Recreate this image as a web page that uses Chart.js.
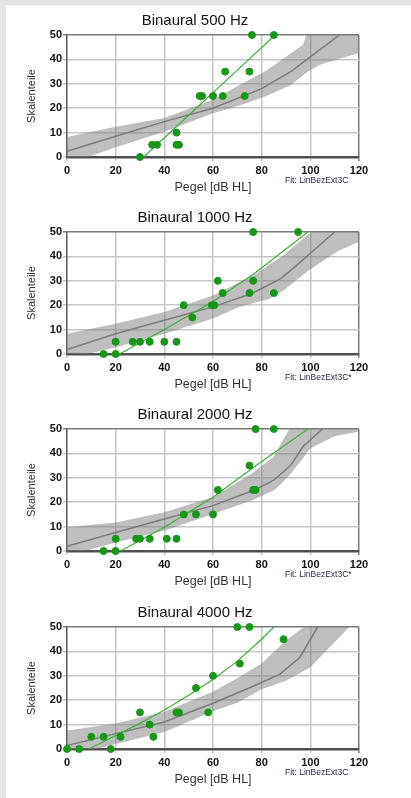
<!DOCTYPE html>
<html>
<head>
<meta charset="utf-8">
<script src="https://cdn.jsdelivr.net/npm/chart.js@4.4.0/dist/chart.umd.min.js"></script>
<style>
  html, body { margin: 0; padding: 0; background: #fff; }
  body { width: 411px; height: 798px; position: relative; overflow: hidden; }
  .edge { position: absolute; background: #e4e4e4; z-index: 2; }
  .panel { position: absolute; left: 0; width: 411px; height: 197px; }
  canvas { display: block; }
</style>
</head>
<body>
<div class="edge" style="left:0;top:0;width:411px;height:5px"></div>
<div class="edge" style="left:0;top:0;width:6px;height:798px"></div>
<div class="panel" style="top:0"><canvas id="c0" width="411" height="197"></canvas></div>
<div class="panel" style="top:197px"><canvas id="c1" width="411" height="197"></canvas></div>
<div class="panel" style="top:394px"><canvas id="c2" width="411" height="197"></canvas></div>
<div class="panel" style="top:592px"><canvas id="c3" width="411" height="197"></canvas></div>
<script>
// titles / notes
const panelTitles = ["Binaural 500 Hz", "Binaural 1000 Hz", "Binaural 2000 Hz", "Binaural 4000 Hz"];
const fitNotes = ["Fit: LinBezExt3C", "Fit: LinBezExt3C*", "Fit: LinBezExt3C*", "Fit: LinBezExt3C"];
const xTicks = [0, 20, 40, 60, 80, 100, 120];
const yTicks = [0, 10, 20, 30, 40, 50];

// 500 Hz
const pts500X = [30, 35, 37, 45, 45, 46, 54.5, 55.5, 60, 64, 65, 73, 75, 76, 85];
const pts500Y = [0, 5, 5, 10, 5, 5, 25, 25, 25, 25, 35, 25, 35, 50, 50];
const fit500X = [31.5, 50, 70, 85.5];
const fit500Y = [0, 17.1, 35.6, 50];
const med500X = [0, 20, 40, 60, 80, 92, 100, 112];
const med500Y = [2.3, 8.5, 14.5, 20, 28, 35, 41, 50];
const band500X = [0, 20, 40, 60, 70, 82, 92, 97, 99, 104, 120];
const band500Up = [8.2, 12.4, 16, 23.5, 29, 35.5, 42.5, 46, 52, 55, 60];
const band500Lo = [-3, 4, 10.3, 17.9, 20.8, 25, 29.5, 33.5, 35, 37.8, 42.6];

// 1000 Hz
const pts1000X = [15, 20, 20, 27, 30, 34, 40, 45, 48, 51.5, 59.5, 60.5, 62, 64, 75, 76.5, 76.5, 85, 95];
const pts1000Y = [0, 0, 5, 5, 5, 5, 5, 5, 20, 15, 20, 20, 30, 25, 25, 30, 50, 25, 50];
const fit1000X = [21.5, 40, 60, 77, 99];
const fit1000Y = [0, 10, 21.5, 33, 50];
const med1000X = [0, 20, 40, 60, 76, 88, 94, 100, 110];
const med1000Y = [1.8, 8.3, 13.8, 19.3, 24.8, 31, 36, 41.3, 50];
const band1000X = [0, 20, 40, 60, 70, 77, 83, 89, 99, 105, 111, 120];
const band1000Up = [8.3, 12.4, 17.2, 24, 29, 32.5, 36.5, 40.5, 49, 52, 55, 58];
const band1000Lo = [-2, 2.8, 8.3, 14.5, 19, 21, 22.5, 26, 34, 38, 42, 46];

// 2000 Hz
const pts2000X = [15, 20, 20, 28.4, 30, 34, 41, 45, 48, 53, 60, 62, 75, 76.5, 77.5, 77.5, 85];
const pts2000Y = [0, 0, 5, 5, 5, 5, 5, 5, 15, 15, 15, 25, 35, 25, 25, 50, 50];
const fit2000X = [22, 40, 60, 77, 99];
const fit2000Y = [0, 9.7, 22, 34.5, 50];
const med2000X = [0, 20, 40, 60, 77, 85, 92, 97, 105];
const med2000Y = [1.9, 7.6, 13.1, 18.6, 25, 29, 35.2, 42.8, 50];
const band2000X = [0, 20, 40, 60, 76, 85, 88, 92, 97, 100, 110, 120];
const band2000Up = [9.7, 11.7, 15.9, 22.1, 31.8, 38.7, 44.2, 51, 54, 56, 60, 62];
const band2000Lo = [-2, 3.5, 8.3, 15.2, 20.7, 24.9, 27.5, 31.8, 38, 42.1, 47, 49];

// 4000 Hz
const pts4000X = [0, 5, 10, 15, 18, 22, 30, 34, 35.5, 45, 46, 53, 58, 60, 70, 71, 75, 89];
const pts4000Y = [0, 0, 5, 5, 0, 5, 15, 10, 5, 15, 15, 25, 15, 30, 50, 35, 50, 45];
const fit4000X = [9, 20, 30, 40, 50, 60, 70, 80, 85];
const fit4000Y = [0, 5.5, 10.5, 16, 22, 28.5, 36, 45, 50];
const med4000X = [0, 20, 40, 60, 76.5, 87.5, 95.7, 103];
const med4000Y = [1.4, 6.3, 11.1, 18.75, 25.7, 30.7, 37.5, 50];
const band4000X = [0, 20, 40, 60, 70, 80, 90, 100, 116, 120];
const band4000Up = [7.6, 10.4, 15.3, 23.5, 29, 35, 44.5, 52, 60, 62];
const band4000Lo = [-3, 2, 7, 15.5, 19, 24.5, 28, 33.5, 50, 53];

const panels = [
  {pX: pts500X, pY: pts500Y, fX: fit500X, fY: fit500Y, mX: med500X, mY: med500Y, bX: band500X, bUp: band500Up, bLo: band500Lo},
  {pX: pts1000X, pY: pts1000Y, fX: fit1000X, fY: fit1000Y, mX: med1000X, mY: med1000Y, bX: band1000X, bUp: band1000Up, bLo: band1000Lo},
  {pX: pts2000X, pY: pts2000Y, fX: fit2000X, fY: fit2000Y, mX: med2000X, mY: med2000Y, bX: band2000X, bUp: band2000Up, bLo: band2000Lo},
  {pX: pts4000X, pY: pts4000Y, fX: fit4000X, fY: fit4000Y, mX: med4000X, mY: med4000Y, bX: band4000X, bUp: band4000Up, bLo: band4000Lo}
];

const xy = (xs, ys) => xs.map((x, i) => ({x: x, y: ys[i]}));

// title + fit note drawn at fixed spots
const panelText = {
  id: "panelText",
  afterDraw(chart, args, opts) {
    const ctx = chart.ctx;
    ctx.save();
    ctx.fillStyle = "#111";
    ctx.font = '15px "Liberation Sans"';
    ctx.textAlign = "center";
    ctx.textBaseline = "middle";
    ctx.fillText(opts.title, 195, 21);
    ctx.font = '8.5px "Liberation Sans"';
    ctx.textAlign = "left";
    ctx.fillStyle = "#2a2a48";
    ctx.fillText(opts.note, 285, 181);
    ctx.restore();
  }
};

const tickFont = {family: "Liberation Sans", size: 11, weight: "bold"};

panels.forEach((p, i) => {
  const ctx = document.getElementById("c" + i).getContext("2d");
  new Chart(ctx, {
    type: "line",
    data: {
      datasets: [{
        data: xy(p.bX, p.bLo),
        borderColor: "transparent",
        borderWidth: 0,
        pointRadius: 0,
        fill: false,
        order: 4
      }, {
        data: xy(p.bX, p.bUp),
        borderColor: "transparent",
        borderWidth: 0,
        pointRadius: 0,
        fill: "-1",
        backgroundColor: "rgba(125,125,125,0.5)",
        order: 3
      }, {
        data: xy(p.mX, p.mY),
        borderColor: "#7d7d7d",
        borderWidth: 1.5,
        pointRadius: 0,
        order: 2
      }, {
        data: xy(p.fX, p.fY),
        borderColor: "#3fae3f",
        borderWidth: 1.2,
        pointRadius: 0,
        order: 1
      }, {
        data: xy(p.pX, p.pY),
        showLine: false,
        pointRadius: 3.5,
        pointBackgroundColor: "#189618",
        pointBorderColor: "#189618",
        clip: false,
        order: 0
      }]
    },
    options: {
      responsive: false,
      animation: false,
      events: [],
      layout: {
        padding: {top: 35, right: 52, left: 0, bottom: 0}
      },
      scales: {
        x: {
          type: "linear",
          min: 0,
          max: 120,
          afterBuildTicks: s => { s.ticks = xTicks.map(v => ({value: v})); },
          afterFit: s => { s.height = 40; },
          ticks: {font: tickFont, color: "#111", padding: 3, maxRotation: 0},
          grid: {
            color: c => (c.tick && c.tick.value === 120) ? "#7a7a7a" : "#c6c6c6",
            lineWidth: 1.5,
            tickLength: 4
          },
          border: {color: "#505050", width: 2.5},
          title: {
            display: true,
            text: "Pegel [dB HL]",
            color: "#333",
            font: {family: "Liberation Sans", size: 12.5},
            padding: {top: 0, bottom: 1.5}
          }
        },
        y: {
          min: 0,
          max: 50,
          afterBuildTicks: s => { s.ticks = yTicks.map(v => ({value: v})); },
          afterFit: s => { s.width = 67; },
          ticks: {font: tickFont, color: "#111", padding: 1},
          grid: {
            color: c => (c.tick && c.tick.value === 50) ? "#7a7a7a" : "#c6c6c6",
            lineWidth: 1.5,
            tickLength: 4
          },
          border: {color: "#606060", width: 1.5},
          title: {
            display: true,
            text: "Skalenteile",
            color: "#333",
            font: {family: "Liberation Sans", size: 11},
            padding: {top: 25, bottom: 0}
          }
        }
      },
      plugins: {
        legend: {display: false},
        tooltip: {enabled: false},
        panelText: {title: panelTitles[i], note: fitNotes[i]}
      }
    },
    plugins: [panelText]
  });
});
</script>
</body>
</html>
